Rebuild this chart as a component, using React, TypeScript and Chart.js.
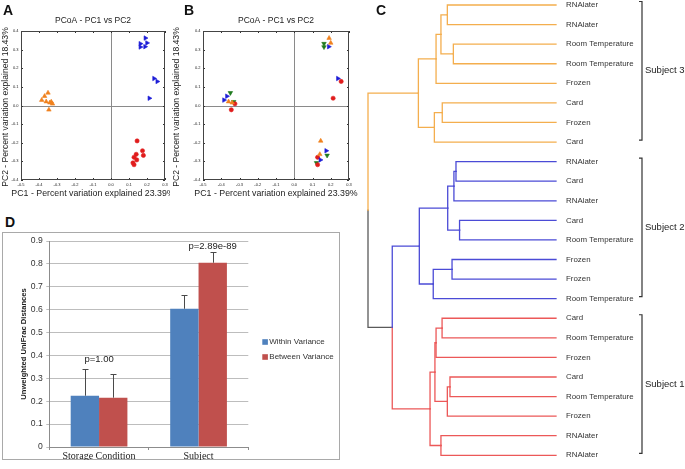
import React, { useEffect, useRef } from "react";
import { Chart, registerables } from "chart.js";
Chart.register(...registerables);

const SANS = "'Liberation Sans', Arial, sans-serif";
const SERIF = "'Liberation Serif', 'Times New Roman', serif";

// ---------- Panels A & B : PCoA ----------
const pcTitle = "PCoA - PC1 vs PC2";
const pcXLabel = "PC1 - Percent variation explained 23.39%";
const pcYLabel = "PC2 - Percent variation explained 18.43%";
const pcXRange = [-0.5, 0.3];
const pcYRange = [-0.4, 0.4];

const pc1 = [
  -0.35, -0.369, -0.385, -0.36, -0.332, -0.325, -0.345, -0.34,
  0.191, 0.2, 0.163, 0.163, 0.189, 0.239, 0.257, 0.213,
  0.145, 0.175, 0.18, 0.14, 0.128, 0.143, 0.122, 0.128,
];
const pc2 = [
  0.068, 0.05, 0.029, 0.021, 0.02, 0.009, -0.023, 0.015,
  0.362, 0.336, 0.332, 0.314, 0.316, 0.145, 0.129, 0.039,
  -0.19, -0.243, -0.268, -0.262, -0.278, -0.292, -0.308, -0.318,
];
const sampleSubject = [
  "Subject 3", "Subject 3", "Subject 3", "Subject 3", "Subject 3", "Subject 3", "Subject 3", "Subject 3",
  "Subject 2", "Subject 2", "Subject 2", "Subject 2", "Subject 2", "Subject 2", "Subject 2", "Subject 2",
  "Subject 1", "Subject 1", "Subject 1", "Subject 1", "Subject 1", "Subject 1", "Subject 1", "Subject 1",
];
const sampleStorage = [
  "Frozen", "RNAlater", "RNAlater", "Room Temperature", "Frozen", "Card", "Card", "Room Temperature",
  "Room Temperature", "Room Temperature", "Frozen", "Frozen", "RNAlater", "RNAlater", "Card", "Card",
  "Room Temperature", "RNAlater", "Frozen", "Room Temperature", "Card", "RNAlater", "Frozen", "Card",
];

const subjectMarkers: Record<string, { color: string; style: string; rotation: number; radius: number }> = {
  "Subject 3": { color: "#f0821e", style: "triangle", rotation: 0, radius: 2.6 },
  "Subject 2": { color: "#1c1cd6", style: "triangle", rotation: 90, radius: 2.6 },
  "Subject 1": { color: "#e01c1c", style: "circle", rotation: 0, radius: 2.1 },
};
const storageMarkers: Record<string, { color: string; style: string; rotation: number; radius: number }> = {
  "Room Temperature": { color: "#f0821e", style: "triangle", rotation: 0, radius: 2.6 },
  "RNAlater": { color: "#1c1cd6", style: "triangle", rotation: 90, radius: 2.6 },
  "Card": { color: "#e01c1c", style: "circle", rotation: 0, radius: 2.1 },
  "Frozen": { color: "#1e7a1e", style: "triangle", rotation: 180, radius: 2.6 },
};

// ---------- Panel C : dendrogram ----------
const leafLabels = [
  "RNAlater", "RNAlater", "Room Temperature", "Room Temperature", "Frozen", "Card", "Frozen", "Card",
  "RNAlater", "Card", "RNAlater", "Card", "Room Temperature", "Frozen", "Frozen", "Room Temperature",
  "Card", "Room Temperature", "Frozen", "Card", "Room Temperature", "Frozen", "RNAlater", "RNAlater",
];
const leafSubjects = [
  "Subject 3", "Subject 3", "Subject 3", "Subject 3", "Subject 3", "Subject 3", "Subject 3", "Subject 3",
  "Subject 2", "Subject 2", "Subject 2", "Subject 2", "Subject 2", "Subject 2", "Subject 2", "Subject 2",
  "Subject 1", "Subject 1", "Subject 1", "Subject 1", "Subject 1", "Subject 1", "Subject 1", "Subject 1",
];
// linkage: node ids 0..23 are leaves, merge k creates node 24+k
const mergeLeft = [0, 2, 24, 26, 5, 28, 27, 8, 31, 11, 32, 13, 35, 34, 16, 38, 19, 40, 39, 22, 42, 37, 30];
const mergeRight = [1, 3, 25, 4, 6, 7, 29, 9, 10, 12, 33, 14, 15, 36, 17, 18, 20, 21, 41, 23, 43, 44, 45];
const mergeHeight = [
  0.578, 0.546, 0.612, 0.638, 0.605, 0.647, 0.732,
  0.532, 0.543, 0.513, 0.576, 0.553, 0.653, 0.727,
  0.606, 0.638, 0.564, 0.578, 0.644, 0.612, 0.67,
  0.871, 1.0,
];
const treeColors: Record<string, string> = {
  "Subject 3": "#f4ae4e",
  "Subject 2": "#4b4bd6",
  "Subject 1": "#ec5858",
};
const treeRootColor = "#5a5a5a";

// ---------- Panel D : bar chart ----------
const barCategories = ["Storage Condition", "Subject"];
const withinVariance = [0.224, 0.604];
const betweenVariance = [0.2155, 0.805];
const withinError = [0.116, 0.059];
const betweenError = [0.105, 0.045];
const pValueLabels = ["p=1.00", "p=2.89e-89"];
const barYMax = 0.9;
const barYStep = 0.1;

// ================= plugins =================
const pcoaFrame = {
  id: "pcoaFrame",
  beforeDatasetsDraw(chart: any) {
    const { ctx, chartArea: a, scales } = chart;
    const x = scales.x, y = scales.y;
    ctx.save();
    ctx.lineWidth = 1;
    ctx.strokeStyle = "#8a8a8a";
    const x0 = Math.round(x.getPixelForValue(0)) + 0.5;
    const y0 = Math.round(y.getPixelForValue(0)) + 0.5;
    ctx.beginPath();
    ctx.moveTo(x0, a.top); ctx.lineTo(x0, a.bottom);
    ctx.moveTo(a.left, y0); ctx.lineTo(a.right, y0);
    ctx.stroke();
    ctx.strokeStyle = "#333";
    ctx.beginPath();
    x.ticks.forEach((t: any) => {
      const p = Math.round(x.getPixelForValue(t.value)) + 0.5;
      ctx.moveTo(p, a.bottom); ctx.lineTo(p, a.bottom - 2);
      ctx.moveTo(p, a.top); ctx.lineTo(p, a.top + 2);
    });
    y.ticks.forEach((t: any) => {
      const p = Math.round(y.getPixelForValue(t.value)) + 0.5;
      ctx.moveTo(a.left, p); ctx.lineTo(a.left + 2, p);
      ctx.moveTo(a.right, p); ctx.lineTo(a.right - 2, p);
    });
    ctx.stroke();
    ctx.strokeStyle = "#444";
    ctx.strokeRect(Math.round(a.left) + 0.5, Math.round(a.top) + 0.5, Math.round(a.width) - 1, Math.round(a.height) - 1);
    ctx.restore();
  },
  afterDraw(chart: any, _args: any, opts: any) {
    const { ctx, chartArea: a } = chart;
    ctx.save();
    ctx.fillStyle = "#222";
    ctx.textAlign = "center";
    ctx.textBaseline = "middle";
    const cx = (a.left + a.right) / 2;
    ctx.font = `8.5px ${SANS}`;
    ctx.fillText(opts.title, cx, 21);
    ctx.font = `8.8px ${SANS}`;
    ctx.fillText(opts.xLabel, cx, 193.5);
    ctx.translate(opts.yLabelX, 107);
    ctx.rotate(-Math.PI / 2);
    ctx.font = `8.6px ${SANS}`;
    ctx.fillText(opts.yLabel, 0, 0);
    ctx.restore();
  },
};

const dendroLabels = {
  id: "dendroLabels",
  afterDatasetsDraw(chart: any) {
    const { ctx, chartArea: a, scales } = chart;
    const y = scales.y;
    ctx.save();
    ctx.fillStyle = "#333";
    ctx.font = `7.9px ${SANS}`;
    ctx.textAlign = "left";
    ctx.textBaseline = "middle";
    leafLabels.forEach((lab, i) => ctx.fillText(lab, a.right + 10, y.getPixelForValue(i)));
    // brackets grouping consecutive leaves of same subject
    const groups: { name: string; first: number; last: number }[] = [];
    leafSubjects.forEach((s, i) => {
      const g = groups[groups.length - 1];
      if (g && g.name === s) g.last = i;
      else groups.push({ name: s, first: i, last: i });
    });
    const bx = a.right + 86;
    ctx.strokeStyle = "#333";
    ctx.lineWidth = 1.2;
    ctx.font = `9.5px ${SANS}`;
    ctx.fillStyle = "#222";
    groups.forEach((g) => {
      const top = y.getPixelForValue(g.first) - 3.5;
      const bot = y.getPixelForValue(g.last) - 2;
      ctx.beginPath();
      ctx.moveTo(bx - 3, top); ctx.lineTo(bx, top); ctx.lineTo(bx, bot); ctx.lineTo(bx - 3, bot);
      ctx.stroke();
      ctx.fillText(g.name, bx + 3, (top + bot) / 2);
    });
    ctx.restore();
  },
};

const barExtras = {
  id: "barExtras",
  beforeDraw(chart: any) {
    const { ctx, width, height } = chart;
    ctx.save();
    ctx.fillStyle = "#fff";
    ctx.fillRect(0, 0, width, height);
    ctx.strokeStyle = "#a9a9a9";
    ctx.lineWidth = 1;
    ctx.strokeRect(0.5, 0.5, width - 1, height - 1);
    ctx.restore();
  },
  afterDatasetsDraw(chart: any) {
    const { ctx, chartArea: a, scales } = chart;
    const y = scales.y, x = scales.x;
    ctx.save();
    ctx.strokeStyle = "#4a4a4a";
    ctx.lineWidth = 1;
    const tops: number[] = [];
    chart.data.datasets.forEach((ds: any, di: number) => {
      const meta = chart.getDatasetMeta(di);
      meta.data.forEach((bar: any, i: number) => {
        const top = ds.data[i] + ds.errors[i];
        tops[i] = Math.max(tops[i] || 0, top);
        const yt = Math.round(y.getPixelForValue(top)) + 0.5;
        const yb = y.getPixelForValue(ds.data[i]);
        const bxp = Math.round(bar.x) + 0.5;
        ctx.beginPath();
        ctx.moveTo(bxp, yb); ctx.lineTo(bxp, yt);
        ctx.moveTo(bxp - 3, yt); ctx.lineTo(bxp + 3, yt);
        ctx.stroke();
      });
    });
    // p-values
    ctx.fillStyle = "#222";
    ctx.font = `9.5px ${SANS}`;
    ctx.textAlign = "center";
    ctx.textBaseline = "middle";
    const shifts = [{ dx: 0, dy: -10 }, { dx: 14, dy: -6 }];
    pValueLabels.forEach((p, i) => {
      ctx.fillText(p, x.getPixelForValue(i) + shifts[i].dx, y.getPixelForValue(tops[i]) + shifts[i].dy);
    });
    // legend
    ctx.font = `8px ${SANS}`;
    ctx.textAlign = "left";
    chart.data.datasets.forEach((ds: any, di: number) => {
      const ly = a.top + 101 + di * 15;
      ctx.fillStyle = ds.backgroundColor;
      ctx.fillRect(a.right + 14, ly - 2.8, 5.6, 5.6);
      ctx.fillStyle = "#333";
      ctx.fillText(ds.label, a.right + 21, ly);
    });
    ctx.restore();
  },
};

// ================= configs =================
function pcoaConfig(colorBy: "subject" | "storage", yAxisWidth: number, padRight: number, yLabelX: number) {
  const keys = colorBy === "subject" ? sampleSubject : sampleStorage;
  const markers = colorBy === "subject" ? subjectMarkers : storageMarkers;
  const datasets = Object.keys(markers).map((k) => {
    const m = markers[k];
    const pts = pc1.map((v, i) => ({ x: v, y: pc2[i], k: keys[i] })).filter((p) => p.k === k).map((p) => ({ x: p.x, y: p.y }));
    return {
      label: k,
      data: pts,
      pointStyle: m.style,
      rotation: m.rotation,
      pointRadius: m.radius,
      backgroundColor: m.color,
      borderColor: m.color,
      borderWidth: 0.6,
    };
  });
  const tickFont = { size: 4, family: SANS };
  return {
    type: "scatter",
    data: { datasets },
    options: {
      responsive: false,
      animation: false,
      layout: { padding: { top: 31, right: padRight, left: 0, bottom: 0 } },
      plugins: {
        legend: { display: false },
        tooltip: { enabled: false },
        pcoaFrame: { title: pcTitle, xLabel: pcXLabel, yLabel: pcYLabel, yLabelX },
      },
      scales: {
        x: {
          type: "linear",
          min: pcXRange[0],
          max: pcXRange[1],
          afterFit: (s: any) => { s.height = 25; },
          grid: { display: false, drawTicks: false },
          border: { display: false },
          ticks: { stepSize: 0.1, font: tickFont, color: "#222", padding: 2, maxRotation: 0, autoSkip: false, callback: (v: any) => Number(v).toFixed(1) },
        },
        y: {
          type: "linear",
          min: pcYRange[0],
          max: pcYRange[1],
          afterFit: (s: any) => { s.width = yAxisWidth; },
          grid: { display: false, drawTicks: false },
          border: { display: false },
          ticks: { stepSize: 0.1, font: tickFont, color: "#222", padding: 2.5, autoSkip: false, callback: (v: any) => Number(v).toFixed(1) },
        },
      },
    },
    plugins: [pcoaFrame],
  };
}

function dendroConfig() {
  const ys: number[] = leafLabels.map((_, i) => i);
  const hs: number[] = leafLabels.map(() => 0);
  const subj: (string | null)[] = [...leafSubjects];
  const datasets: any[] = [];
  mergeLeft.forEach((l, k) => {
    const r = mergeRight[k];
    const h = mergeHeight[k];
    const ym = (ys[l] + ys[r]) / 2;
    [l, r].forEach((c) => {
      const s = subj[c];
      datasets.push({
        data: [{ x: hs[c], y: ys[c] }, { x: h, y: ys[c] }, { x: h, y: ym }],
        showLine: true,
        borderColor: s ? treeColors[s] : treeRootColor,
        borderWidth: 1.3,
        pointRadius: 0,
        fill: false,
        tension: 0,
        clip: false,
        borderCapStyle: "square",
      });
    });
    ys.push(ym);
    hs.push(h);
    subj.push(subj[l] === subj[r] ? subj[l] : null);
  });
  return {
    type: "scatter",
    data: { datasets },
    options: {
      responsive: false,
      animation: false,
      layout: { padding: { top: 5, bottom: 13.7, left: 28, right: 129 } },
      plugins: { legend: { display: false }, tooltip: { enabled: false } },
      scales: {
        x: { type: "linear", display: false, min: 0, max: 1.0, reverse: true },
        y: { type: "linear", display: false, min: 0, max: leafLabels.length - 1, reverse: true },
      },
    },
    plugins: [dendroLabels],
  };
}

function barConfig() {
  return {
    type: "bar",
    data: {
      labels: barCategories,
      datasets: [
        { label: "Within Variance", data: withinVariance, errors: withinError, backgroundColor: "#4f81bd", categoryPercentage: 0.57, barPercentage: 1.0 },
        { label: "Between Variance", data: betweenVariance, errors: betweenError, backgroundColor: "#c0504d", categoryPercentage: 0.57, barPercentage: 1.0 },
      ],
    },
    options: {
      responsive: false,
      animation: false,
      layout: { padding: { top: 9, right: 91.7, left: 0, bottom: 0 } },
      plugins: { legend: { display: false }, tooltip: { enabled: false } },
      scales: {
        x: {
          afterFit: (s: any) => { s.height = 13; },
          grid: { drawOnChartArea: false, drawTicks: true, tickLength: 3, offset: true, color: "#8c8c8c" },
          border: { color: "#8c8c8c" },
          ticks: { font: { size: 10, family: SERIF }, color: "#222", padding: 0.5, maxRotation: 0 },
        },
        y: {
          min: 0,
          max: barYMax,
          afterFit: (s: any) => { s.width = 47.3; },
          grid: { color: "#bdbdbd", tickLength: 3, drawTicks: true },
          border: { color: "#8c8c8c" },
          ticks: { stepSize: barYStep, font: { size: 8.6, family: SANS }, color: "#333", padding: 3.5, callback: (v: any) => (Number(v) === 0 ? "0" : Number(v).toFixed(1)) },
          title: { display: true, text: "Unweighted UniFrac Distances", font: { size: 7.6, weight: "bold", family: SANS }, color: "#222", padding: { top: 17.5, bottom: 0 } },
        },
      },
    },
    plugins: [barExtras],
  };
}

function ChartBox({ make, left, top, width, height }: { make: () => any; left: number; top: number; width: number; height: number }) {
  const ref = useRef<HTMLCanvasElement>(null);
  useEffect(() => {
    const chart = new Chart(ref.current as HTMLCanvasElement, make());
    return () => chart.destroy();
  }, []);
  return (
    <div style={{ position: "absolute", left, top, width, height }}>
      <canvas ref={ref} width={width} height={height} style={{ width, height, display: "block" }} />
    </div>
  );
}

const letterStyle: React.CSSProperties = {
  position: "absolute",
  font: `bold 14px ${SANS}`,
  color: "#111",
  lineHeight: "14px",
};

export default function App() {
  return (
    <div style={{ position: "absolute", left: 0, top: 0, width: 685, height: 469, background: "#fff", overflow: "hidden" }}>
      <ChartBox make={() => pcoaConfig("subject", 21, 5, 6)} left={0} top={0} width={170} height={205} />
      <ChartBox make={() => pcoaConfig("storage", 33, 11, 7)} left={170} top={0} width={190} height={205} />
      <ChartBox make={dendroConfig} left={340} top={0} width={345} height={469} />
      <ChartBox make={barConfig} left={2} top={232} width={338} height={228} />
      <div style={{ ...letterStyle, left: 3, top: 3 }}>A</div>
      <div style={{ ...letterStyle, left: 184, top: 3 }}>B</div>
      <div style={{ ...letterStyle, left: 376, top: 3 }}>C</div>
      <div style={{ ...letterStyle, left: 5, top: 215 }}>D</div>
    </div>
  );
}
